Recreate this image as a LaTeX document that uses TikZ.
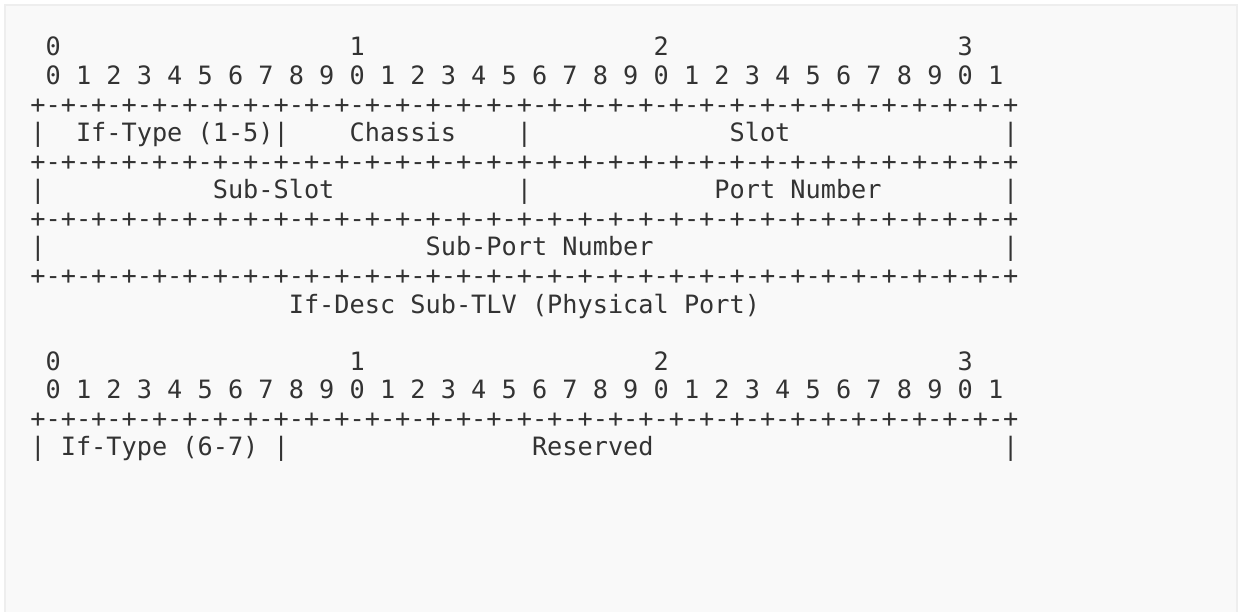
\documentclass[tikz,border=0pt]{standalone}
\usepackage{fontspec}
\newfontfamily\asciimono{DejaVu Sans Mono}
\definecolor{textgray}{HTML}{333333}
\definecolor{framefill}{HTML}{F9F9F9}
\definecolor{frameline}{HTML}{EEEEEE}
\newcommand\asciiseg{-+-+-+-+}
\newcommand\asciiborder{+\asciiseg\asciiseg\asciiseg\asciiseg\asciiseg\asciiseg\asciiseg\asciiseg}
\newcommand\asciidigits{0 1 2 3 4 5 6 7 8 9 0 1 2 3 4 5 6 7 8 9 0 1 2 3 4 5 6 7 8 9 0 1}
\begin{document}
\begin{tikzpicture}[x=1pt,y=-1pt,
  txt/.style={inner sep=0pt, outer sep=0pt, anchor=base west,
    font=\asciimono\fontsize{25.25pt}{28.57pt}\selectfont, text=textgray}]
\useasboundingbox (0,0) rectangle (1240,612);
\clip (0,0) rectangle (1240,612);
\fill[white] (0,0) rectangle (1240,612);
\draw[frameline, line width=2pt, fill=framefill] (5,5) rectangle (1237,640);
% column c left edge: 30.4 + 15.2 c ; row r baseline: 56 + 28.57 (r-1)
% row 1
\node[txt] (h1a) at (45.6,56) {0};
\node[txt] (h1b) at (349.6,56) {1};
\node[txt] (h1c) at (653.6,56) {2};
\node[txt] (h1d) at (957.6,56) {3};
% row 2
\node[txt] (d1) at (45.6,84.57) {\asciidigits};
% row 3
\node[txt] (b1) at (30.4,113.14) {\asciiborder};
% row 4
\node[txt] (r4a) at (30.4,141.71) {|};
\node[txt] (iftype1) at (76.0,141.71) {If-Type (1-5)|};
\node[txt] (chassis) at (349.6,141.71) {Chassis};
\node[txt] (r4b) at (516.8,141.71) {|};
\node[txt] (slot) at (729.6,141.71) {Slot};
\node[txt] (r4c) at (1003.2,141.71) {|};
% row 5
\node[txt] (b2) at (30.4,170.28) {\asciiborder};
% row 6
\node[txt] (r6a) at (30.4,198.85) {|};
\node[txt] (subslot) at (212.8,198.85) {Sub-Slot};
\node[txt] (r6b) at (516.8,198.85) {|};
\node[txt] (portnum) at (714.4,198.85) {Port Number};
\node[txt] (r6c) at (1003.2,198.85) {|};
% row 7
\node[txt] (b3) at (30.4,227.42) {\asciiborder};
% row 8
\node[txt] (r8a) at (30.4,255.99) {|};
\node[txt] (subport) at (425.6,255.99) {Sub-Port Number};
\node[txt] (r8b) at (1003.2,255.99) {|};
% row 9
\node[txt] (b4) at (30.4,284.56) {\asciiborder};
% row 10
\node[txt] (caption) at (288.8,313.13) {If-Desc Sub-TLV (Physical Port)};
% row 12
\node[txt] (h2a) at (45.6,370.27) {0};
\node[txt] (h2b) at (349.6,370.27) {1};
\node[txt] (h2c) at (653.6,370.27) {2};
\node[txt] (h2d) at (957.6,370.27) {3};
% row 13
\node[txt] (d2) at (45.6,398.84) {\asciidigits};
% row 14
\node[txt] (b5) at (30.4,427.41) {\asciiborder};
% row 15
\node[txt] (r15a) at (30.4,455.98) {|};
\node[txt] (iftype2) at (60.8,455.98) {If-Type (6-7) |};
\node[txt] (reserved) at (532.0,455.98) {Reserved};
\node[txt] (r15b) at (1003.2,455.98) {|};
\end{tikzpicture}
\end{document}
